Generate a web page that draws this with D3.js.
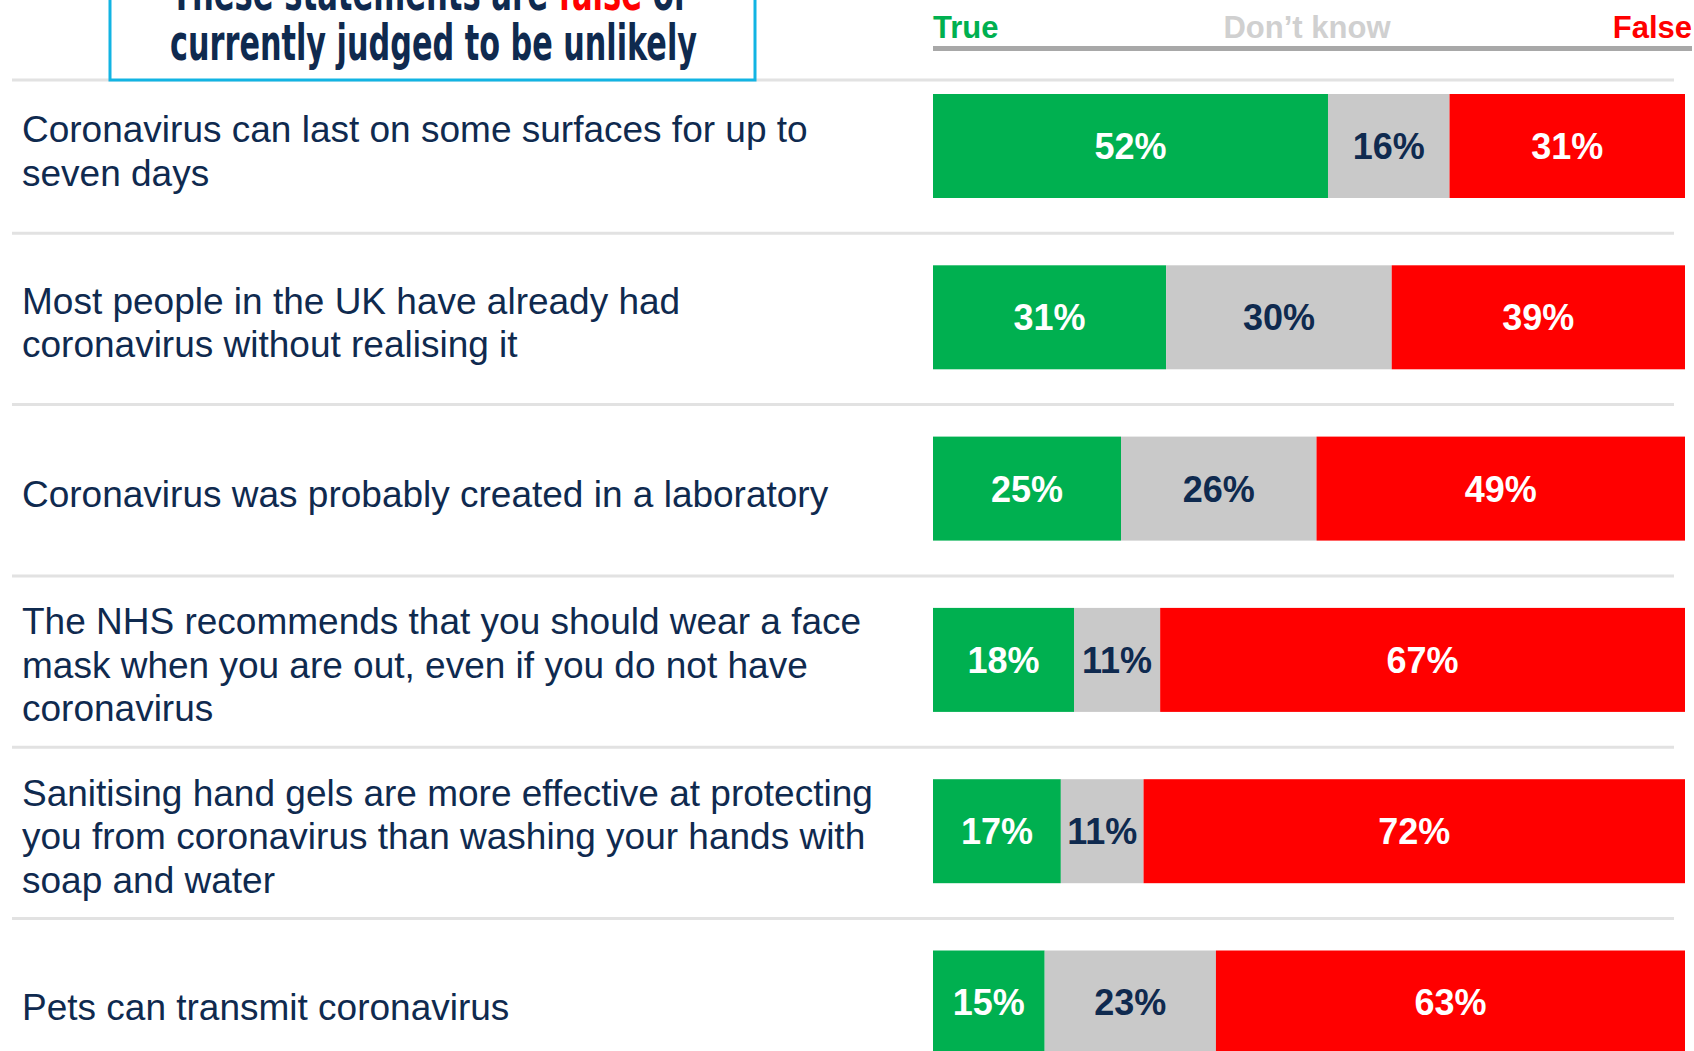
<!DOCTYPE html>
<html>
<head>
<meta charset="utf-8">
<script src="https://cdn.jsdelivr.net/npm/d3@7"></script>
<style>
  html, body { margin: 0; padding: 0; background: #fff; }
  svg { display: block; }
</style>
</head>
<body>
<div id="chart"></div>
<script>
// Statements (already broken into the lines used on the slide)
const statements = [
    ["Coronavirus can last on some surfaces for up to", "seven days"],
    ["Most people in the UK have already had", "coronavirus without realising it"],
    ["Coronavirus was probably created in a laboratory"],
    ["The NHS recommends that you should wear a face", "mask when you are out, even if you do not have", "coronavirus"],
    ["Sanitising hand gels are more effective at protecting", "you from coronavirus than washing your hands with", "soap and water"],
    ["Pets can transmit coronavirus"]
];

// Series values (%)
const trueVals    = [52, 31, 25, 18, 17, 15];
const dontKnowVals = [16, 30, 26, 11, 11, 23];
const falseVals   = [31, 39, 49, 67, 72, 63];

const seriesNames = ["True", "Don\u2019t know", "False"];
const titleLines = [["These statements are ", "false", " or"], ["currently judged to be unlikely"]];

const W = 1694, H = 1051;
const navy = "#0f2a4f";
const colors = { fill: ["#00b050", "#c9c9c9", "#ff0000"], label: ["#fff", navy, "#fff"], legend: ["#00b050", "#d0d0d0", "#ff0000"] };

const svg = d3.select("#chart").append("svg")
    .attr("width", W)
    .attr("height", H);

// Build rows, shares are normalised to the row total so every bar fills the width
const rows = statements.map((lines, i) => {
    const vals = [trueVals[i], dontKnowVals[i], falseVals[i]];
    const total = d3.sum(vals);
    let acc = 0;
    const segs = vals.map((v, k) => {
        const s = { k, v, x0: acc / total, x1: (acc + v) / total };
        acc += v;
        return s;
    });
    return { i, lines, segs };
});

const barLeft = 933, barRight = 1685;
const x = d3.scaleLinear().domain([0, 1]).range([barLeft, barRight]);

const step = 171.3, barH = 104, barTop = 94;
const y = d3.scaleBand()
    .domain(rows.map(d => d.i))
    .range([barTop, barTop + 5 * step + barH])
    .paddingInner((step - barH) / step)
    .paddingOuter(0);

// Separator lines
const sepYs = [80].concat(rows.slice(1).map(d => y(d.i) - 32));
svg.selectAll(".sep")
    .data(sepYs)
    .enter().append("line")
    .attr("x1", 12).attr("x2", 1674)
    .attr("y1", d => d).attr("y2", d => d)
    .attr("stroke", "#e2e2e2")
    .attr("stroke-width", 3);

// Title box (top runs off the page)
svg.append("rect")
    .attr("x", 110).attr("y", -40)
    .attr("width", 645).attr("height", 120)
    .attr("fill", "#fff")
    .attr("stroke", "#12b4e3")
    .attr("stroke-width", 3);

const title = svg.append("g").attr("font-family", "'Liberation Sans Narrow', 'DejaVu Sans Condensed', 'Liberation Sans', sans-serif")
    .attr("font-weight", "bold")
    .attr("font-size", 50)
    .attr("fill", navy);

titleLines.forEach((parts, li) => {
    const t = title.append("text")
        .attr("x", li === 0 ? 171 : 170)
        .attr("y", li === 0 ? 10 : 60)
        .attr("textLength", li === 0 ? 518 : 527)
        .attr("lengthAdjust", "spacingAndGlyphs");
    parts.forEach(p => {
        t.append("tspan").text(p).attr("fill", p === "false" ? "#ff0000" : navy);
    });
});

// Legend
const legend = svg.append("g")
    .attr("font-family", "'Liberation Sans', Arial, sans-serif")
    .attr("font-weight", "bold")
    .attr("font-size", 31);

legend.selectAll("text")
    .data(seriesNames)
    .enter().append("text")
    .attr("x", (d, k) => [barLeft, 1307, 1692][k])
    .attr("y", 38)
    .attr("text-anchor", (d, k) => ["start", "middle", "end"][k])
    .attr("fill", (d, k) => colors.legend[k])
    .text(d => d);

svg.append("rect")
    .attr("x", barLeft).attr("y", 46)
    .attr("width", 1692 - barLeft).attr("height", 5)
    .attr("fill", "#a8a8a8");

// Row labels
const labelG = svg.append("g")
    .attr("font-family", "'Liberation Sans', Arial, sans-serif")
    .attr("font-size", 37)
    .attr("fill", navy);

const lineH = 43.5;
rows.forEach(r => {
    const cy = y(r.i) + barH / 2 + 5;
    const n = r.lines.length;
    labelG.append("text")
        .selectAll("tspan")
        .data(r.lines)
        .enter().append("tspan")
        .attr("x", 22)
        .attr("y", (d, j) => cy + (j - (n - 1) / 2) * lineH)
        .attr("dy", "0.35em")
        .text(d => d);
});

// Bars
const rowG = svg.selectAll(".row")
    .data(rows)
    .enter().append("g")
    .attr("class", "row")
    .attr("transform", d => `translate(0,${y(d.i)})`);

rowG.selectAll("rect")
    .data(d => d.segs)
    .enter().append("rect")
    .attr("x", d => x(d.x0))
    .attr("y", 0)
    .attr("width", d => x(d.x1) - x(d.x0))
    .attr("height", y.bandwidth())
    .attr("fill", d => colors.fill[d.k]);

rowG.selectAll("text")
    .data(d => d.segs)
    .enter().append("text")
    .attr("x", d => (x(d.x0) + x(d.x1)) / 2)
    .attr("y", y.bandwidth() / 2)
    .attr("dy", "0.36em")
    .attr("text-anchor", "middle")
    .attr("font-family", "'Liberation Sans', Arial, sans-serif")
    .attr("font-weight", "bold")
    .attr("font-size", 36)
    .attr("fill", d => colors.label[d.k])
    .text(d => d.v + "%");
</script>
</body>
</html>
